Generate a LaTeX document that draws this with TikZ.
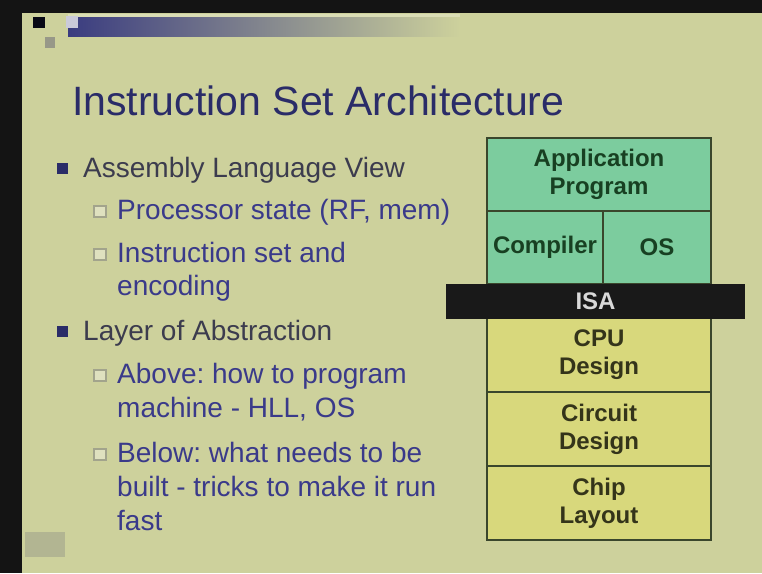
\documentclass[tikz,border=0pt]{standalone}
\usepackage{fontspec}
\setmainfont{Liberation Sans}
\usepackage{tikz}
\usetikzlibrary{calc}
\usepackage{xcolor}
\frenchspacing
\definecolor{fundo}{RGB}{205,209,156}
\definecolor{azul}{RGB}{42,44,104}
\definecolor{barra}{RGB}{58,60,128}
\definecolor{verde}{RGB}{124,204,158}
\definecolor{amarelo}{RGB}{216,216,124}
\definecolor{borda}{RGB}{58,70,44}
\definecolor{textoverde}{RGB}{24,64,34}
\definecolor{textoamarelo}{RGB}{52,52,26}
\definecolor{topico}{RGB}{60,60,78}
\definecolor{subtopico}{RGB}{58,58,138}

\begin{document}
\begin{tikzpicture}[x=1pt, y=-1pt,
    camada/.style={draw=borda, line width=2.5pt, minimum width=224pt, minimum height=73pt,
        align=center, inner sep=0pt, font=\fontsize{24}{28}\selectfont\bfseries},
    texto/.style={anchor=base west, inner sep=0pt, font=\fontsize{28}{34}\selectfont}]
    \useasboundingbox (0,0) rectangle (762,573);
    % Fundo
    \fill[fundo] (0,0) rectangle (762,573);
    \fill[black!92] (0,0) rectangle (22,573);
    \fill[black!92] (0,0) rectangle (762,13);
    \shade[left color=barra, right color=fundo] (68,17) rectangle (460,36);
    \fill[white!25!fundo] (68,14) rectangle (460,17);
    \fill[black!80!azul] (33,17) rectangle (45,28);
    \fill[azul!25!white] (66,16) rectangle (78,28);
    \fill[gray!70!fundo] (45,37) rectangle (55,48);
    \fill[gray!35!fundo] (25,532) rectangle (65,557);
    % Titulo
    \node[anchor=base west, inner sep=0pt, font=\fontsize{41}{48}\selectfont, text=azul] (titulo) at (72,115) {Instruction Set Architecture};
    % Topicos
    \foreach \y/\txt [count=\i] in {177/Assembly Language View, 340/Layer of Abstraction} {
        \fill[azul] (57,\y-14) rectangle (68,\y-3);
        \node[texto, text=topico] (topico\i) at (83,\y) {\txt};
    }
    \foreach \y/\txt [count=\i] in {219/{Processor state (RF, mem)}, 262/Instruction set and, 295/encoding,
        383/Above: how to program, 417/{machine - HLL, OS}, 462/Below: what needs to be,
        496/built - tricks to make it run, 530/fast} {
        \node[texto, text=subtopico] (sub\i) at (117,\y) {\txt};
    }
    \foreach \y in {219, 262, 383, 462} {
        \draw[gray!55!fundo, fill=white!35!fundo, line width=1.2pt] (94,\y-13) rectangle (106,\y-2);
    }
    % Camadas
    \node[camada, fill=verde, text=textoverde] (app) at (599,174.5) {Application\\Program};
    \node[camada, fill=verde, text=textoverde, minimum width=116pt] (comp) at (545,247.5) {Compiler};
    \node[camada, fill=verde, text=textoverde, minimum width=108pt] (os) at (657,247.5) {OS};
    \node[camada, fill=amarelo, text=textoamarelo, minimum height=74pt] (cpu) at (599,355) {CPU\\Design};
    \node[camada, fill=amarelo, text=textoamarelo, minimum height=74pt] (circ) at (599,429) {Circuit\\Design};
    \node[camada, fill=amarelo, text=textoamarelo, minimum height=74pt] (chip) at (599,503) {Chip\\Layout};
    \node[fill=black!90, text=white!85!black, minimum width=299pt, minimum height=35pt, inner sep=0pt,
        font=\fontsize{24}{28}\selectfont\bfseries] (isa) at (595.5,301) {ISA};
\end{tikzpicture}
\end{document}
